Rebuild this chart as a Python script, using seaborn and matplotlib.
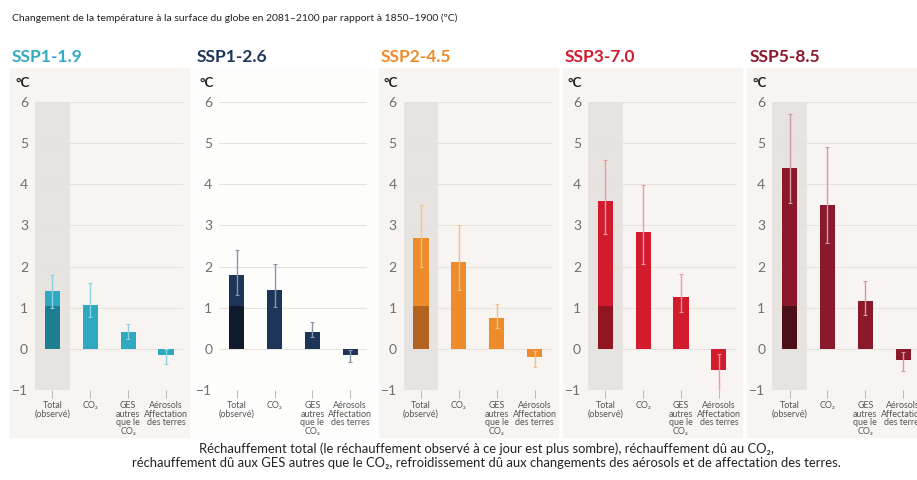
import numpy as np
import pandas as pd
import seaborn as sns
import matplotlib.pyplot as plt
from matplotlib.patches import Rectangle

# data
scenarios = ["SSP1-1.9", "SSP1-2.6", "SSP2-4.5", "SSP3-7.0", "SSP5-8.5"]
categories = ["Total\n(observé)", "CO₂", "GES\nautres\nque le\nCO₂", "Aérosols\nAffectation\ndes terres"]

total = [1.40, 1.80, 2.70, 3.60, 4.40]
co2 = [1.07, 1.43, 2.12, 2.85, 3.49]
ghg = [0.41, 0.42, 0.75, 1.26, 1.17]
aerosols = [-0.16, -0.14, -0.20, -0.51, -0.26]
observed = [1.05, 1.05, 1.05, 1.05, 1.05]

total_low = [1.00, 1.30, 2.00, 2.80, 3.55]
total_high = [1.80, 2.40, 3.50, 4.60, 5.70]
co2_low = [0.77, 1.02, 1.43, 2.07, 2.57]
co2_high = [1.60, 2.07, 3.00, 3.98, 4.90]
ghg_low = [0.24, 0.29, 0.50, 0.90, 0.82]
ghg_high = [0.61, 0.65, 1.10, 1.83, 1.66]
aer_low = [-0.37, -0.33, -0.45, -1.26, -0.55]
aer_high = [0.00, -0.02, -0.05, -0.12, -0.08]

bar_colors = ["#2fa8c1", "#1c3558", "#ee8c2c", "#d21b2c", "#8a1a2b"]
dark_colors = ["#1d7d92", "#0f1b2d", "#b1631f", "#8f1621", "#4e1018"]
err_colors = ["#8fd3e0", "#8a96a8", "#f7c08a", "#ee9aa2", "#d09aa2"]
panel_bg = ["#f7f4f1", "#fdfdfc", "#f7f4f1", "#f7f4f1", "#f7f4f1"]
shade = [True, False, True, True, True]

sns.set_theme(style="white")
plt.rcParams["font.family"] = ["Lato", "DejaVu Sans"]

W, H = 917, 480
fig = plt.figure(figsize=(W / 100, H / 100), dpi=100)
fig.patch.set_facecolor("white")

step = 184.3
ax_left0 = 35
ax_w = 148
ax_bottom = 1 - 390 / H
ax_h = (390 - 102) / H

fig.text(12 / W, 1 - 18 / H,
         "Changement de la température à la surface du globe en 2081–2100 par rapport à 1850–1900 (ºC)",
         fontsize=7.5, color="#222222", va="center", ha="left")

for i, name in enumerate(scenarios):
    left = ax_left0 + i * step

    # panel background
    fig.patches.append(Rectangle(((left - 25) / W, 1 - 437 / H), 179 / W, (437 - 68) / H,
                                 transform=fig.transFigure, color=panel_bg[i], zorder=-5))

    ax = fig.add_axes([left / W, ax_bottom, ax_w / W, ax_h])
    ax.patch.set_alpha(0)

    df = pd.DataFrame({
        "cat": categories,
        "val": [total[i], co2[i], ghg[i], aerosols[i]],
        "low": [total_low[i], co2_low[i], ghg_low[i], aer_low[i]],
        "high": [total_high[i], co2_high[i], ghg_high[i], aer_high[i]],
    })

    if shade[i]:
        ax.axvspan(-0.46, 0.46, color="#e6e3e0", zorder=0, lw=0)

    sns.barplot(data=df, x="cat", y="val", order=categories, color=bar_colors[i],
                saturation=1, width=0.4, linewidth=0, ax=ax, zorder=2)
    sns.barplot(x=[categories[0]], y=[observed[i]], order=categories, color=dark_colors[i],
                saturation=1, width=0.4, linewidth=0, ax=ax, zorder=3)

    xpos = np.arange(len(categories))
    ax.errorbar(xpos, df["val"], yerr=[df["val"] - df["low"], df["high"] - df["val"]],
                fmt="none", ecolor=err_colors[i], elinewidth=1.0, capsize=1.5,
                capthick=0.8, zorder=4)

    ax.set_ylim(-1, 6)
    ax.set_xlim(-0.46, 3.45)
    ax.set_yticks(range(-1, 7))
    ax.yaxis.grid(True, color="#e6e3df", lw=0.8)
    ax.set_axisbelow(True)
    sns.despine(ax=ax, left=True, bottom=True)
    ax.set_xlabel("")
    ax.set_ylabel("")
    ax.tick_params(axis="y", length=0, pad=5, labelsize=10, labelcolor="#707070")
    ax.tick_params(axis="x", length=6, width=0.7, color="#b8b8b8", direction="out",
                   pad=2, labelsize=6.4, labelcolor="#555555")
    ax.xaxis.set_ticks_position("bottom")
    for lab in ax.get_xticklabels():
        lab.set_linespacing(0.95)

    fig.text((left - 23) / W, 1 - 57 / H, name, fontsize=12.5, fontweight="bold",
             color=bar_colors[i] if i != 0 else "#35aac3", va="center", ha="left")
    fig.text((left - 20) / W, 1 - 83 / H, "°C", fontsize=9.5, fontweight="bold",
             color="#222222", va="center", ha="left")

fig.text(0.531, 1 - 456 / H,
         "Réchauffement total (le réchauffement observé à ce jour est plus sombre), réchauffement dû au CO₂,\n"
         "réchauffement dû aux GES autres que le CO₂, refroidissement dû aux changements des aérosols et de affectation des terres.",
         fontsize=9.4, color="#222222", ha="center", va="center", linespacing=1.2)

fig.savefig("out.png", dpi=100)
